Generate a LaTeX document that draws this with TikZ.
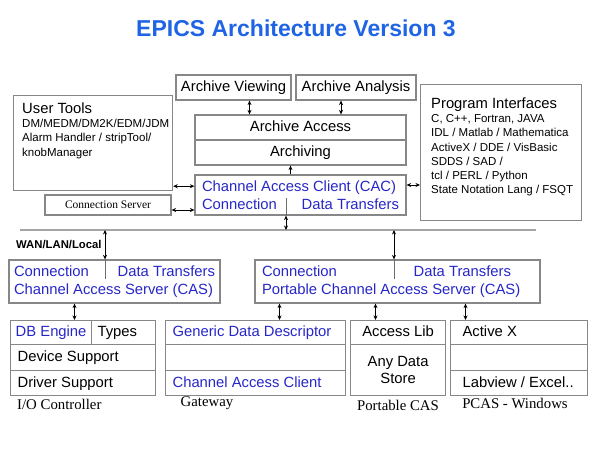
\documentclass[tikz,border=0pt]{standalone}
\usepackage{fontspec}
\setmainfont{Liberation Serif}
\setsansfont{Liberation Sans}
\usetikzlibrary{arrows.meta}
\definecolor{BoxGray}{RGB}{135,135,135}
\definecolor{BusGray}{RGB}{165,165,165}
\definecolor{DivGray}{RGB}{110,110,110}
\definecolor{CABlue}{RGB}{38,38,200}
\definecolor{TitleBlue}{RGB}{30,100,228}
\newcommand{\cellfont}{\sffamily\fontsize{14.8}{17.5}\selectfont}
\newcommand{\listfont}{\sffamily\fontsize{11.5}{14.2}\selectfont}
\newcommand{\hostfont}{\rmfamily\fontsize{14.8}{17}\selectfont}

\begin{document}
\begin{tikzpicture}[x=1pt, y=-1pt,
    every node/.style={font=\cellfont, align=center,
      execute at begin node={\spaceskip=0pt\relax\xspaceskip=0pt\relax}},
    box/.style={draw=BoxGray, line width=1.2pt},
    cell/.style={box, text height=10.8pt, text depth=3pt},
    row/.style 2 args={cell, anchor=north west, inner xsep=7pt, inner ysep=0pt,
      text width=#1, minimum height=#2, align=left},
    link/.style={line width=0.8pt,
      {Stealth[length=4.5pt,width=4pt]}-{Stealth[length=4.5pt,width=4pt]}},
    uplink/.style={line width=0.8pt, -{Stealth[length=4.5pt,width=4pt]}},
    divider/.style={line width=0.8pt, draw=DivGray},
    bus/.style={line width=2pt, draw=BusGray},
    caption/.style={font=\hostfont, inner sep=0pt}]
  \useasboundingbox (0,0) rectangle (600,450);

  \node[font=\sffamily\bfseries\fontsize{23}{27}\selectfont, text=TitleBlue]
    (title) at (296,28) {EPICS Architecture Version 3};

  % archiver and client side
  \node[cell, minimum width=115pt, minimum height=25pt] (arview) at (233.5,87.5) {Archive Viewing};
  \node[cell, minimum width=120pt, minimum height=25pt] (aranal) at (356,87.5) {Archive Analysis};
  \node[cell, minimum width=211pt, minimum height=25pt] (aracc) at (300.5,127.5) {Archive Access};
  \node[cell, minimum width=211pt, minimum height=25pt] (archiving) at (300.5,152.5) {Archiving};
  \node[box, minimum height=40pt, inner xsep=7pt, text width=197pt, align=left,
        text=CABlue] (cac) at (300.5,195) {Channel Access Client (CAC)\\Connection\hfill Data Transfers};

  \node[box, anchor=north west, minimum width=159pt, minimum height=95pt] (tools) at (13,95) {};
  \node[anchor=north west, inner sep=0pt, text width=152pt, align=left, font=\listfont]
    (toolstxt) at (22,102.5)
    {{\cellfont User Tools}\\DM/MEDM/DM2K/EDM/JDM\\Alarm Handler / stripTool/\\knobManager};
  \node[box, minimum width=126pt, minimum height=20pt,
        font=\rmfamily\fontsize{11.5}{14}\selectfont] (connsrv) at (108,205) {Connection Server};

  \node[box, anchor=north west, minimum width=161pt, minimum height=136pt] (prog) at (420,84) {};
  \node[anchor=north west, inner sep=0pt, text width=148pt, align=left, font=\listfont]
    (progtxt) at (431,97.5)
    {{\cellfont Program Interfaces}\\C, C++, Fortran, JAVA\\IDL / Matlab / Mathematica\\
     ActiveX / DDE / VisBasic\\SDDS / SAD /\\tcl / PERL / Python\\State Notation Lang / FSQT};

  \draw[link] ([xshift=16pt]arview.south) -- ([xshift=16pt]arview.south |- aracc.north);
  \draw[link] ([xshift=-15pt]aranal.south) -- ([xshift=-15pt]aranal.south |- aracc.north);
  \draw[uplink] ([xshift=-10pt]cac.north) -- ([xshift=-10pt]cac.north |- archiving.south);
  \draw[link] ([yshift=5pt]tools.south east) -- ([yshift=5pt]cac.west |- tools.south east);
  \draw[link] ([yshift=-5pt]connsrv.east) -- ([yshift=-5pt]cac.west |- connsrv.east);
  \draw[link] ([yshift=10pt]cac.east) -- ([yshift=10pt]prog.west |- cac.east);

  % network
  \coordinate (busW) at (20,230);
  \coordinate (busE) at (536,230);
  \coordinate (tapCAC) at (286,230);
  \coordinate (tapCAS) at (105,230);
  \coordinate (tapPCAS) at (394,230);
  \draw[bus] (busW) -- (busE);
  \node[anchor=west, inner sep=0pt, font=\sffamily\bfseries\fontsize{11.3}{13}\selectfont]
    (wan) at (16,245) {WAN/LAN/Local};

  % servers
  \node[box, minimum height=43pt, inner xsep=5pt, text width=201pt, align=left,
        text=CABlue] (cas) at (114.5,281.5) {Connection\hfill Data Transfers\\Channel Access Server (CAS)};
  \node[box, minimum height=43pt, inner xsep=7pt, text width=271pt, align=left,
        text=CABlue] (pcas) at (397.5,281.5)
    {Connection\hfill Data Transfers\kern22pt\\Portable Channel Access Server (CAS)};

  \draw[link] (tapCAC |- cac.south) -- (tapCAC);
  \draw[divider] (tapCAC |- cac.south) -- ++(0,-18);
  \draw[link] (tapCAS) -- (tapCAS |- cas.north);
  \draw[divider] (tapCAS |- cas.north) -- ++(0,20);
  \draw[link] (tapPCAS) -- (tapPCAS |- pcas.north);
  \draw[divider] (tapPCAS |- pcas.north) -- ++(0,20);

  % hosts
  \node[cell, anchor=north west, minimum width=81pt, minimum height=24pt, inner xsep=3pt,
        inner ysep=0pt, text=CABlue] (dbeng) at (10,320) {DB Engine};
  \node[row={52pt}{24pt}, inner xsep=6pt] (types) at (91,320) {Types};
  \node[row={131pt}{26pt}] (devsup) at (10,344) {Device Support};
  \node[row={131pt}{25pt}] (drvsup) at (10,370) {Driver Support};

  \node[row={166pt}{24pt}, text=CABlue] (gdd) at (165,320) {Generic Data Descriptor};
  \node[row={166pt}{26pt}] (gmid) at (165,344) {};
  \node[row={166pt}{25pt}, text=CABlue] (gcac) at (165,370) {Channel Access Client};

  \node[cell, anchor=north west, minimum width=95pt, minimum height=24pt, inner ysep=0pt]
    (plib) at (350,320) {Access Lib};
  \node[box, anchor=north west, minimum width=95pt, minimum height=51pt] (pstore) at (350,344) {Any Data\\Store};

  \node[row={113pt}{24pt}, inner xsep=12pt] (wax) at (450,320) {Active X};
  \node[row={113pt}{26pt}, inner xsep=12pt] (wmid) at (450,344) {};
  \node[row={113pt}{25pt}, inner xsep=12pt] (wlab) at (450,370) {Labview / Excel..};

  \draw[link] ([xshift=-40pt]cas.south) -- ([xshift=-40pt]cas.south |- dbeng.north);
  \draw[link] ([xshift=-118pt]pcas.south) -- ([xshift=-118pt]pcas.south |- gdd.north);
  \draw[link] ([xshift=-22pt]pcas.south) -- ([xshift=-22pt]pcas.south |- plib.north);
  \draw[link] ([xshift=68pt]pcas.south) -- ([xshift=68pt]pcas.south |- wax.north);

  \node[caption, anchor=west] (ioccap) at (17,404) {I/O Controller};
  \node[caption] (gwcap) at (207,403) {Gateway};
  \node[caption] (pcascap) at (398,405) {Portable CAS};
  \node[caption] (wincap) at (515,403) {PCAS - Windows};
\end{tikzpicture}
\end{document}
